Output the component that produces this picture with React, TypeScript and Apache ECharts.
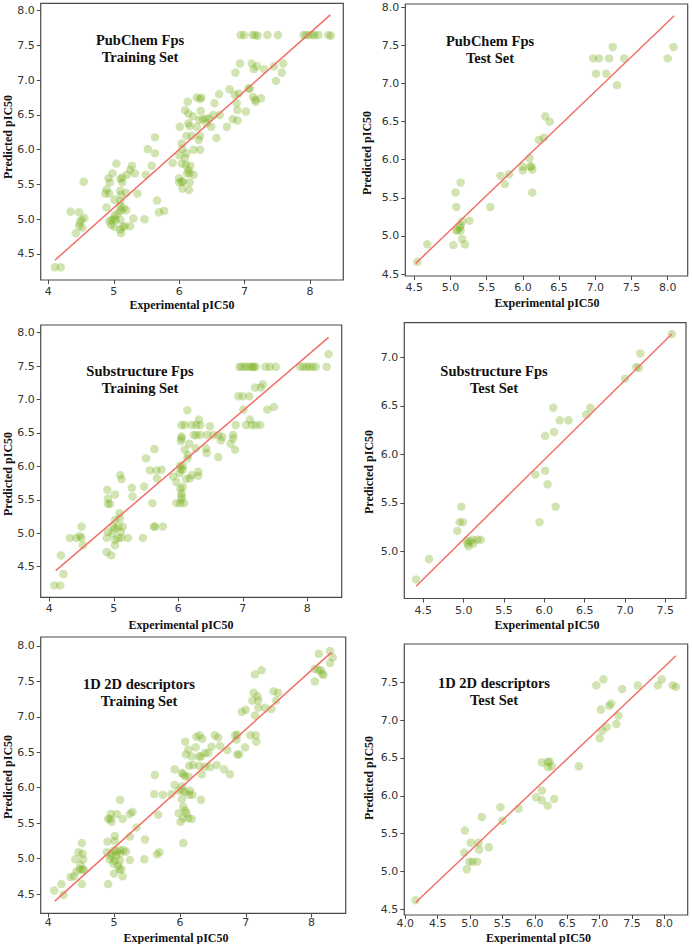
import React, { useEffect, useRef } from "react";
import * as echarts from "echarts";

// ---------- data (experimental, predicted) ----------
const pubchemTrain: number[][] = [
  [6.94,7.65],[6.99,7.65],[7.12,7.65],[7.16,7.65],[7.2,7.64],[7.35,7.65],[7.51,7.65],
  [7.9,7.65],[7.94,7.65],[7.98,7.65],[8.04,7.65],[8.07,7.65],[8.13,7.65],[8.28,7.65],[8.32,7.64],
  [6.93,7.24],[6.86,7.11],[7.11,7.24],[7.14,7.16],[7.19,7.2],[7.3,7.16],[7.45,7.2],[7.59,7.24],
  [7.57,7.11],[7.48,6.99],[7.06,6.88],[7.08,6.88],[6.77,6.87],[6.91,6.81],[6.85,6.79],[7.13,6.76],
  [7.16,6.72],[7.17,6.69],[7.25,6.74],[6.88,6.67],[6.89,6.57],[7.02,6.55],[6.82,6.44],[6.89,6.42],
  [6.73,6.33],[6.61,6.8],[6.54,6.67],[6.52,6.5],[6.62,6.5],[6.57,6.17],[6.46,6.45],[6.41,6.45],
  [6.36,6.44],[6.31,6.43],[6.27,6.75],[6.32,6.73],[6.34,6.75],[6.33,6.56],[6.13,6.69],[6.09,6.57],
  [6.14,6.52],[6.21,6.48],[6.14,6.38],[6.16,6.34],[6.01,6.33],[6.27,6.33],[6.42,6.38],[6.49,6.33],
  [6.32,6.2],[6.3,6.14],[6.19,6.2],[6.11,6.2],[6.04,6.09],[6.22,6.0],[6.32,6.0],[6.05,6.01],
  [6.11,5.95],[6.0,5.92],[6.09,5.88],[6.04,5.8],[6.1,5.78],[6.17,5.77],[6.14,5.71],[6.12,5.66],
  [6.16,5.66],[6.22,5.64],[6.0,5.59],[6.04,5.54],[6.06,5.54],[6.0,5.53],[6.16,5.53],[6.05,5.44],
  [6.15,5.42],[5.9,5.81],[5.63,6.18],[5.63,5.95],[5.52,6.01],[5.58,5.77],[5.49,5.64],[5.66,5.27],
  [5.69,5.1],[5.77,5.12],[5.47,5.0],[5.04,5.8],[5.28,5.77],[5.32,5.66],[5.25,5.71],[5.2,5.64],
  [5.13,5.6],[5.1,5.58],[4.92,5.59],[4.94,5.53],[4.98,5.66],[5.13,5.53],[4.89,5.43],[4.87,5.37],
  [4.93,5.37],[5.1,5.41],[5.11,5.35],[5.19,5.38],[5.36,5.37],[5.01,5.28],[5.1,5.26],[4.89,5.17],
  [5.1,5.19],[5.15,5.16],[5.19,5.13],[5.11,5.13],[5.07,5.09],[5.02,5.06],[5.0,5.01],[4.97,4.99],
  [4.93,4.97],[5.03,4.99],[5.1,4.99],[4.96,4.92],[5.01,4.89],[5.14,4.89],[5.1,4.85],[5.11,4.8],
  [5.17,4.9],[5.25,4.9],[5.3,5.01],[4.54,5.54],[4.34,5.11],[4.47,5.1],[4.51,4.99],[4.55,5.02],
  [4.48,4.96],[4.47,4.9],[4.52,4.88],[4.42,4.8],[4.1,4.31],[4.19,4.31],
];
const pubchemTrainFit: number[][] = [[4.1, 4.41], [8.31, 7.94]];

const pubchemTest: number[][] = [
  [4.54,4.66],[4.68,4.89],[5.04,4.88],[5.2,4.89],[5.16,4.96],[5.14,5.07],[5.1,5.08],[5.08,5.07],
  [5.14,5.14],[5.16,5.19],[5.13,5.11],[5.26,5.2],[5.08,5.38],[5.07,5.57],[5.14,5.7],[5.55,5.38],
  [5.69,5.79],[5.75,5.68],[5.81,5.81],[6.0,5.86],[6.0,5.91],[6.09,6.02],[6.1,5.91],[6.12,5.91],
  [6.13,5.87],[6.13,5.57],[6.22,6.26],[6.29,6.29],[6.31,6.57],[6.37,6.5],[6.97,7.33],[7.01,7.13],
  [7.05,7.33],[7.15,7.13],[7.19,7.33],[7.24,7.48],[7.3,6.98],[7.4,7.33],[8.0,7.33],[8.08,7.48],
];
const pubchemTestFit: number[][] = [[4.52, 4.64], [8.09, 7.89]];

const substructTrain: number[][] = [
  [6.95,7.49],[6.98,7.49],[7.03,7.49],[7.07,7.49],[7.12,7.49],[7.15,7.49],[7.17,7.49],[7.2,7.49],
  [7.35,7.49],[7.42,7.49],[7.51,7.49],[7.89,7.49],[7.94,7.49],[7.99,7.49],[8.03,7.49],[8.08,7.49],
  [8.13,7.49],[8.3,7.49],[8.33,7.68],[7.31,7.23],[7.28,7.18],[7.19,7.18],[6.93,7.05],[7.0,7.05],
  [7.1,7.05],[7.01,6.85],[7.38,6.85],[7.48,6.89],[7.11,6.7],[7.05,6.62],[7.14,6.62],[7.2,6.62],
  [7.27,6.62],[6.89,6.62],[6.85,6.47],[6.88,6.25],[6.81,6.34],[6.85,6.42],[6.68,6.44],[6.66,6.39],
  [6.62,6.47],[6.49,6.6],[6.54,6.47],[6.45,6.47],[6.34,6.47],[6.28,6.47],[6.24,6.47],[6.32,6.7],
  [6.28,6.62],[6.34,6.62],[6.21,6.62],[6.05,6.62],[6.1,6.62],[6.14,6.84],[6.05,6.45],[6.05,6.42],
  [6.04,6.38],[6.17,6.34],[6.27,6.27],[6.43,6.27],[6.44,6.2],[6.62,6.14],[6.1,6.25],[6.14,6.12],
  [6.15,6.17],[6.03,6.01],[6.07,6.01],[6.04,5.96],[6.07,5.95],[6.02,5.9],[6.21,5.87],[6.31,5.92],
  [6.31,5.86],[6.12,5.81],[6.18,5.82],[5.92,5.85],[5.97,5.77],[6.03,5.67],[6.07,5.69],[6.05,5.6],
  [6.05,5.55],[6.05,5.51],[5.97,5.45],[6.03,5.45],[6.09,5.45],[5.5,6.12],[5.63,6.26],[5.56,5.94],
  [5.66,5.94],[5.74,5.95],[5.67,5.82],[5.47,5.7],[5.6,5.45],[5.62,5.1],[5.64,5.1],[5.76,5.1],
  [5.45,4.93],[5.1,5.87],[5.12,5.81],[5.28,5.68],[5.29,5.55],[5.02,5.58],[4.9,5.65],[4.91,5.52],
  [4.91,5.44],[4.94,5.44],[5.09,5.3],[5.09,5.22],[5.02,5.2],[4.99,5.1],[5.02,5.07],[5.07,5.1],
  [5.11,5.02],[5.14,5.1],[4.91,5.02],[4.98,5.0],[5.07,4.93],[5.02,4.9],[4.89,4.93],[5.12,4.93],
  [5.22,4.93],[5.02,4.82],[4.89,4.72],[4.96,4.67],[4.5,5.1],[4.5,4.93],[4.42,4.93],[4.32,4.93],
  [4.47,4.96],[4.52,4.82],[4.18,4.67],[4.22,4.39],[4.08,4.22],[4.17,4.22],
];
const substructTrainFit: number[][] = [[4.1, 4.44], [8.33, 7.93]];

const substructTest: number[][] = [
  [4.41,4.71],[4.57,4.92],[4.92,5.21],[4.97,5.46],[4.95,5.3],[4.99,5.3],[5.04,5.11],[5.05,5.08],
  [5.06,5.05],[5.08,5.1],[5.11,5.12],[5.12,5.08],[5.17,5.12],[5.21,5.12],[5.89,5.79],[6.01,5.83],
  [6.01,6.19],[6.04,5.69],[5.94,5.3],[6.14,5.46],[6.11,6.48],[6.12,6.23],[6.19,6.35],[6.3,6.35],
  [6.52,6.41],[6.57,6.48],[7.0,6.78],[7.14,6.9],[7.17,6.89],[7.19,7.04],[7.58,7.24],
];
const substructTestFit: number[][] = [[4.41, 4.64], [7.58, 7.24]];

const descTrain: number[][] = [
  [8.28,7.93],[8.11,7.89],[8.32,7.84],[8.28,7.76],[8.05,7.68],[8.1,7.66],[8.14,7.66],[8.16,7.61],
  [8.18,7.59],[8.05,7.5],[7.24,7.66],[7.14,7.6],[7.12,7.34],[7.18,7.29],[7.42,7.36],[7.49,7.34],
  [7.46,7.23],[7.1,7.23],[7.19,7.23],[7.19,7.13],[7.29,7.13],[7.39,7.11],[7.0,7.1],[6.94,7.07],
  [7.14,7.02],[7.07,6.74],[7.15,6.74],[7.16,6.65],[6.87,6.75],[6.84,6.74],[6.86,6.68],[6.99,6.57],
  [6.87,6.47],[6.9,6.47],[6.72,6.53],[6.53,6.74],[6.58,6.71],[6.61,6.59],[6.56,6.32],[6.46,6.29],
  [6.48,6.58],[6.3,6.74],[6.34,6.69],[6.25,6.72],[6.29,6.44],[6.32,6.44],[6.38,6.49],[6.43,6.49],
  [6.24,6.57],[6.08,6.65],[6.09,6.47],[6.13,6.54],[6.18,6.44],[6.14,6.31],[6.2,6.32],[6.29,6.31],
  [6.38,6.3],[6.33,6.19],[6.67,6.26],[6.76,6.19],[5.92,6.26],[6.03,6.21],[6.05,6.19],[6.08,6.16],
  [6.13,6.16],[5.92,6.04],[6.03,6.02],[6.04,5.96],[6.08,5.94],[5.98,5.96],[6.15,5.96],[6.14,5.9],
  [6.19,5.9],[6.32,5.83],[5.87,5.91],[6.03,5.84],[6.05,5.73],[6.08,5.68],[6.1,5.64],[5.98,5.64],
  [6.01,5.52],[6.05,5.57],[6.13,5.57],[6.18,5.56],[6.05,5.22],[5.62,6.18],[5.61,5.91],[5.74,5.9],
  [5.67,5.62],[5.65,5.06],[5.69,5.09],[5.46,4.99],[5.47,5.27],[5.34,5.44],[5.24,5.31],[5.24,5.63],
  [5.28,5.66],[5.09,5.83],[5.04,5.63],[4.95,5.63],[4.91,5.56],[4.94,5.56],[4.96,5.52],[5.13,5.56],
  [5.01,5.32],[5.01,5.25],[4.9,5.24],[4.89,5.09],[4.96,5.07],[5.0,5.12],[5.04,5.1],[5.09,5.12],
  [5.14,5.12],[5.18,5.1],[5.09,5.07],[5.03,5.05],[4.93,4.99],[5.01,4.97],[4.96,5.03],[5.09,4.97],
  [5.24,4.98],[4.99,4.93],[5.06,4.9],[5.08,4.85],[5.11,4.85],[5.13,4.75],[5.0,4.79],[4.91,4.64],
  [4.51,5.22],[4.46,5.09],[4.52,5.07],[4.53,4.99],[4.41,4.99],[4.49,4.91],[4.48,4.85],[4.52,4.85],
  [4.54,4.84],[4.43,4.82],[4.34,4.74],[4.39,4.75],[4.51,4.64],[4.2,4.64],[4.09,4.55],[4.23,4.49],
];
const descTrainFit: number[][] = [[4.1, 4.4], [8.3, 7.91]];

const descTest: number[][] = [
  [4.16,4.62],[4.92,5.54],[4.91,5.25],[4.95,5.03],[5.01,5.38],[4.99,5.13],[5.04,5.13],[5.11,5.13],
  [5.13,5.38],[5.14,5.29],[5.29,5.32],[5.18,5.72],[5.47,5.85],[5.5,5.67],[5.75,5.83],[6.02,5.98],
  [6.11,5.94],[6.11,6.07],[6.2,5.87],[6.3,5.96],[6.11,6.44],[6.2,6.45],[6.23,6.45],[6.2,6.38],
  [6.26,6.39],[6.68,6.39],[6.95,7.46],[7.06,7.54],[7.02,7.14],[7.15,7.19],[7.18,7.22],[7.11,6.91],
  [7.04,6.86],[7.0,6.76],[7.26,6.95],[7.29,7.06],[7.35,7.41],[7.59,7.46],[7.9,7.46],[7.96,7.54],
  [8.13,7.46],[8.18,7.44],
];
const descTestFit: number[][] = [[4.16, 4.59], [8.18, 7.85]];

// axis domains and tick values
const intTicks = [4, 5, 6, 7, 8];
const halfTicks45to80 = [4.5, 5.0, 5.5, 6.0, 6.5, 7.0, 7.5, 8.0];
const halfTicks40to80 = [4.0, 4.5, 5.0, 5.5, 6.0, 6.5, 7.0, 7.5, 8.0];
const halfTicks45to75 = [4.5, 5.0, 5.5, 6.0, 6.5, 7.0, 7.5];
const halfTicks50to70 = [5.0, 5.5, 6.0, 6.5, 7.0];

const titles = [
  ["PubChem Fps", "Training Set"],
  ["PubChem Fps", "Test Set"],
  ["Substructure Fps", "Training Set"],
  ["Substructure Fps", "Test Set"],
  ["1D 2D descriptors", "Training Set"],
  ["1D 2D descriptors", "Test Set"],
];

const panelData = [
  { pts: pubchemTrain, fit: pubchemTrainFit, x: [3.883, 8.509], y: [4.126, 8.106], xt: intTicks, yt: halfTicks45to80, xd: 0 },
  { pts: pubchemTest, fit: pubchemTestFit, x: [4.376, 8.276], y: [4.474, 8.044], xt: halfTicks45to80, yt: halfTicks45to80, xd: 1 },
  { pts: substructTrain, fit: substructTrainFit, x: [3.867, 8.533], y: [4.042, 8.115], xt: intTicks, yt: halfTicks45to80, xd: 0 },
  { pts: substructTest, fit: substructTestFit, x: [4.264, 7.756], y: [4.513, 7.357], xt: halfTicks45to75, yt: halfTicks50to70, xd: 1 },
  { pts: descTrain, fit: descTrainFit, x: [3.885, 8.518], y: [4.228, 8.127], xt: intTicks, yt: halfTicks45to80, xd: 0 },
  { pts: descTest, fit: descTestFit, x: [3.985, 8.361], y: [4.425, 8.006], xt: halfTicks40to80, yt: halfTicks45to75, xd: 1 },
];

// ---------- layout (page pixels) ----------
const frames = [
  [40.7, 3.3, 343.3, 280],
  [405.3, 4, 687.7, 276],
  [40.7, 325, 341.7, 597.3],
  [404.3, 322.7, 686, 598.5],
  [40.7, 637, 345.7, 913.3],
  [404.3, 644, 687.7, 915],
];
const xLabelMargin = [6, 6, 6, 6, 4, 2.5];
const titlePos = [[140, 40], [490, 40.5], [140, 371], [494, 371], [139, 684], [494, 683]];
const xNamePos = [[182, 305], [547, 303], [181, 625], [547, 625], [176, 937.5], [538.5, 937.5]];
const yNamePos = [[7.5, 137], [367, 153], [7.5, 474], [369, 472], [7.5, 777], [369, 778]];

const SERIF = '"Liberation Serif", "Times New Roman", serif';

export default function App() {
  const ref = useRef<HTMLDivElement>(null);
  useEffect(() => {
    if (!ref.current) return;
    const chart = echarts.init(ref.current, null, { renderer: "svg" });
    const grid: any[] = [];
    const xAxis: any[] = [];
    const yAxis: any[] = [];
    const series: any[] = [];
    const graphic: any[] = [];
    panelData.forEach((p, i) => {
      const [l, t, r, b] = frames[i];
      grid.push({
        left: l, top: t, width: r - l, height: b - t,
        show: true, borderColor: "#4a4a4a", borderWidth: 1.2,
        containLabel: false, outerBoundsMode: "none",
      });
      const common = {
        type: "value",
        gridIndex: i,
        scale: true,
        axisLine: { show: false },
        splitLine: { show: false },
      };
      xAxis.push({
        ...common,
        min: p.x[0], max: p.x[1],
        axisTick: { show: true, length: 4, customValues: p.xt, lineStyle: { color: "#4a4a4a", width: 1 } },
        axisLabel: {
          customValues: p.xt, margin: xLabelMargin[i], color: "#333", fontSize: 11,
          fontFamily: '"DejaVu Sans", sans-serif',
          formatter: (v: number) => v.toFixed(p.xd),
        },
      });
      yAxis.push({
        ...common,
        min: p.y[0], max: p.y[1],
        axisTick: { show: true, length: 4, customValues: p.yt, lineStyle: { color: "#4a4a4a", width: 1 } },
        axisLabel: {
          customValues: p.yt, margin: 6, color: "#333", fontSize: 11,
          fontFamily: '"DejaVu Sans", sans-serif',
          formatter: (v: number) => v.toFixed(1),
        },
      });
      series.push({
        type: "scatter",
        xAxisIndex: i, yAxisIndex: i,
        data: p.pts,
        symbolSize: 8.5,
        itemStyle: { color: "rgba(118,176,28,0.42)" },
        z: 2,
      });
      series.push({
        type: "line",
        xAxisIndex: i, yAxisIndex: i,
        data: p.fit,
        symbol: "none",
        lineStyle: { color: "#f07068", width: 1.5 },
        z: 3,
      });
      const [tx, ty] = titlePos[i];
      graphic.push({
        type: "text", x: tx, y: ty, z: 10,
        style: { text: titles[i][0], align: "center", verticalAlign: "middle", font: `bold 14.5px ${SERIF}`, fill: "#111" },
      });
      graphic.push({
        type: "text", x: tx, y: ty + 17, z: 10,
        style: { text: titles[i][1], align: "center", verticalAlign: "middle", font: `bold 14.5px ${SERIF}`, fill: "#111" },
      });
      const [xx, xy] = xNamePos[i];
      graphic.push({
        type: "text", x: xx, y: xy, z: 10,
        style: { text: "Experimental pIC50", align: "center", verticalAlign: "middle", font: `bold 12px ${SERIF}`, fill: "#111" },
      });
      const [yx, yy] = yNamePos[i];
      graphic.push({
        type: "text", x: yx, y: yy, rotation: Math.PI / 2, z: 10,
        style: { text: "Predicted pIC50", align: "center", verticalAlign: "middle", font: `bold 12px ${SERIF}`, fill: "#111" },
      });
    });
    chart.setOption({
      animation: false,
      backgroundColor: "#ffffff",
      grid, xAxis, yAxis, series, graphic,
    });
    return () => chart.dispose();
  }, []);
  return (
    <div
      ref={ref}
      style={{ position: "absolute", left: 0, top: 0, width: 692, height: 944 }}
    />
  );
}
